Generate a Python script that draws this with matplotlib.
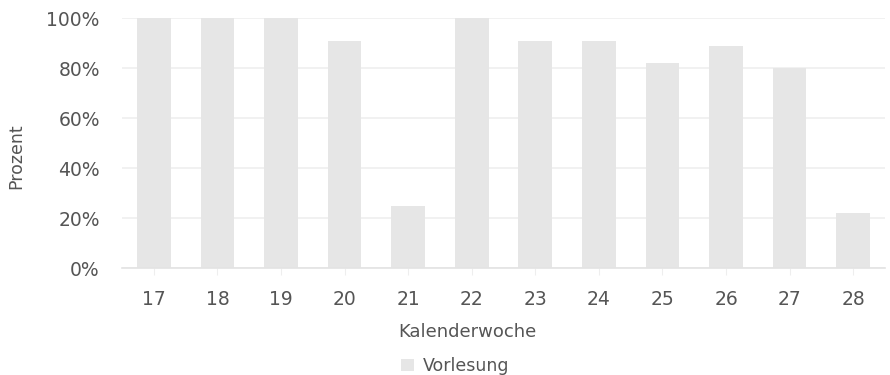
import matplotlib
matplotlib.use("Agg")
import matplotlib.pyplot as plt
import numpy as np
from matplotlib.ticker import FuncFormatter

weeks = ['17', '18', '19', '20', '21', '22', '23', '24', '25', '26', '27', '28']
vorlesung = [100, 100, 100, 91, 25, 100, 91, 91, 82, 89, 80, 22]

text_col = '#555555'
bar_col = '#e6e6e6'
grid_col = '#efefef'

plt.rcParams['font.family'] = 'DejaVu Sans'

W, H = 890, 375
fig = plt.figure(figsize=(W / 100, H / 100), dpi=100)
ax = fig.add_axes([122 / W, 1 - 268 / H, (885 - 122) / W, 250 / H])

x = np.arange(len(weeks))
ax.bar(x, vorlesung, width=0.53, color=bar_col, edgecolor='none',
       label='Vorlesung', zorder=2)

ax.set_xlim(-0.5, len(weeks) - 0.5)
ax.set_ylim(0, 100)
ax.set_yticks(np.arange(0, 101, 20))
ax.yaxis.set_major_formatter(FuncFormatter(lambda v, _: f'{v:.0f}%'))
ax.set_xticks(x)
ax.set_xticklabels(weeks)

ax.yaxis.grid(True, color=grid_col, linewidth=1.2, zorder=0)
ax.set_axisbelow(True)
for side in ['top', 'left', 'right']:
    ax.spines[side].set_visible(False)
ax.spines['bottom'].set_color('#e3e3e3')
ax.spines['bottom'].set_linewidth(1.2)

ax.tick_params(axis='y', length=0, pad=16, labelsize=13.5, labelcolor=text_col)
ax.tick_params(axis='x', length=5, color='#eeeeee', pad=11, labelsize=13.5,
               labelcolor=text_col)

# axis titles placed by hand (x title sits left of the axes centre)
fig.text(467 / W, 1 - 332 / H, 'Kalenderwoche', ha='center', va='center',
         fontsize=13, color=text_col)
fig.text(16 / W, 1 - 156 / H, 'Prozent', ha='center', va='center',
         rotation=90, fontsize=12.5, color=text_col)

ax.legend(loc='center', bbox_to_anchor=(455 / W, 1 - 366 / H),
          bbox_transform=fig.transFigure, frameon=False,
          fontsize=12.5, labelcolor=text_col, handlelength=0.75,
          handleheight=0.75, handletextpad=0.5, borderpad=0)

fig.savefig('out.png', dpi=100, facecolor='white')
